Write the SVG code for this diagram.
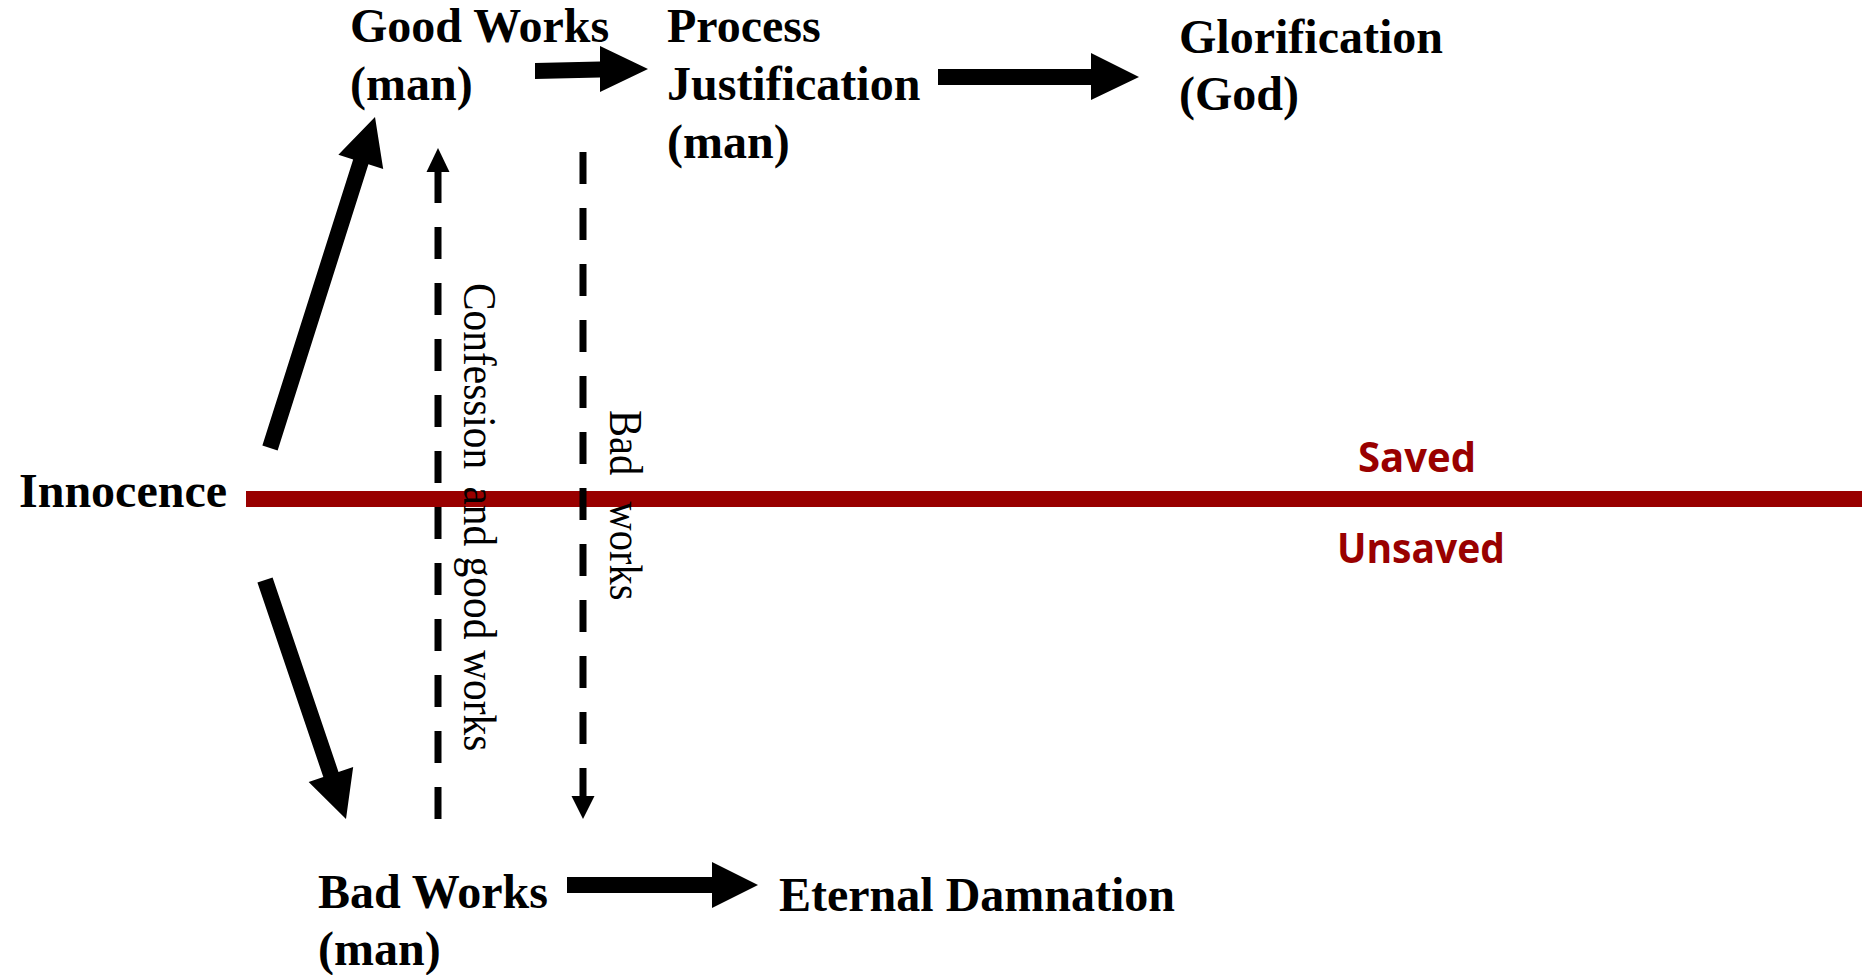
<svg xmlns="http://www.w3.org/2000/svg" width="1862" height="975" viewBox="0 0 1862 975">
  <style>
    .lbl { font-family: "Liberation Serif", "Times New Roman", serif; font-weight: bold; font-size: 48px; fill: #000; }
    .side { font-family: "Liberation Serif", "Times New Roman", serif; font-size: 46px; fill: #000; }
    .zone { font-family: "Open Sans", "Liberation Sans", sans-serif; font-weight: bold; font-size: 42px; fill: #990000; }
    .block { fill: #000; }
    .dash { stroke: #000; stroke-width: 7; fill: none; stroke-dasharray: 32 24; }
  </style>
  <rect width="1862" height="975" fill="#fff"/>

  <g id="divider">
    <rect x="246" y="491" width="1616" height="16" fill="#990000"/>
    <text class="zone" x="1358" y="472" textLength="118" lengthAdjust="spacingAndGlyphs">Saved</text>
    <text class="zone" x="1337" y="563" textLength="168" lengthAdjust="spacingAndGlyphs">Unsaved</text>
  </g>

  <g id="node-innocence">
    <text class="lbl" x="19" y="507">Innocence</text>
  </g>
  <g id="node-good-works">
    <text class="lbl" x="350" y="42">Good Works</text>
    <text class="lbl" x="350" y="100">(man)</text>
  </g>
  <g id="node-process-justification">
    <text class="lbl" x="667" y="42">Process</text>
    <text class="lbl" x="667" y="100">Justification</text>
    <text class="lbl" x="667" y="158">(man)</text>
  </g>
  <g id="node-glorification">
    <text class="lbl" x="1179" y="53">Glorification</text>
    <text class="lbl" x="1179" y="110">(God)</text>
  </g>
  <g id="node-bad-works">
    <text class="lbl" x="318" y="908">Bad Works</text>
    <text class="lbl" x="318" y="965">(man)</text>
  </g>
  <g id="node-eternal-damnation">
    <text class="lbl" x="779" y="911">Eternal Damnation</text>
  </g>

  <g id="connectors">
    <polygon class="block" points="277.63,450.42 368.42,164.22 383.19,168.91 375,117 338.39,154.69 353.16,159.38 262.37,445.58"/>
    <polygon class="block" points="257.42,582.57 323.33,777.06 308.65,782.03 346,819 353.17,766.95 338.49,771.92 272.58,577.43"/>
    <polygon class="block" points="535,63 600,61.5 600,46 648,69 600,92 600,77.5 535,79"/>
    <polygon class="block" points="938,69 1091,69 1091,53 1139,77 1091,100 1091,85 938,85"/>
    <polygon class="block" points="567,877 712,877 712,862 758,885 712,908 712,893 567,893"/>

    <g id="edge-confession">
      <line class="dash" x1="438" y1="819" x2="438" y2="172"/>
      <polygon class="block" points="438,148 426.5,172 449.5,172"/>
      <text class="side" transform="translate(464,283) rotate(90) scale(0.9,1)"><tspan x="0" y="0">Confession</tspan><tspan x="226">and</tspan><tspan x="304">good</tspan><tspan x="408">works</tspan></text>
    </g>
    <g id="edge-bad-works">
      <line class="dash" x1="583" y1="152" x2="583" y2="797"/>
      <polygon class="block" points="571.5,796 594.5,796 583,819"/>
      <text class="side" transform="translate(610,410) rotate(90) scale(0.88,1)"><tspan x="0" y="0">Bad</tspan><tspan x="104">works</tspan></text>
    </g>
  </g>
</svg>
